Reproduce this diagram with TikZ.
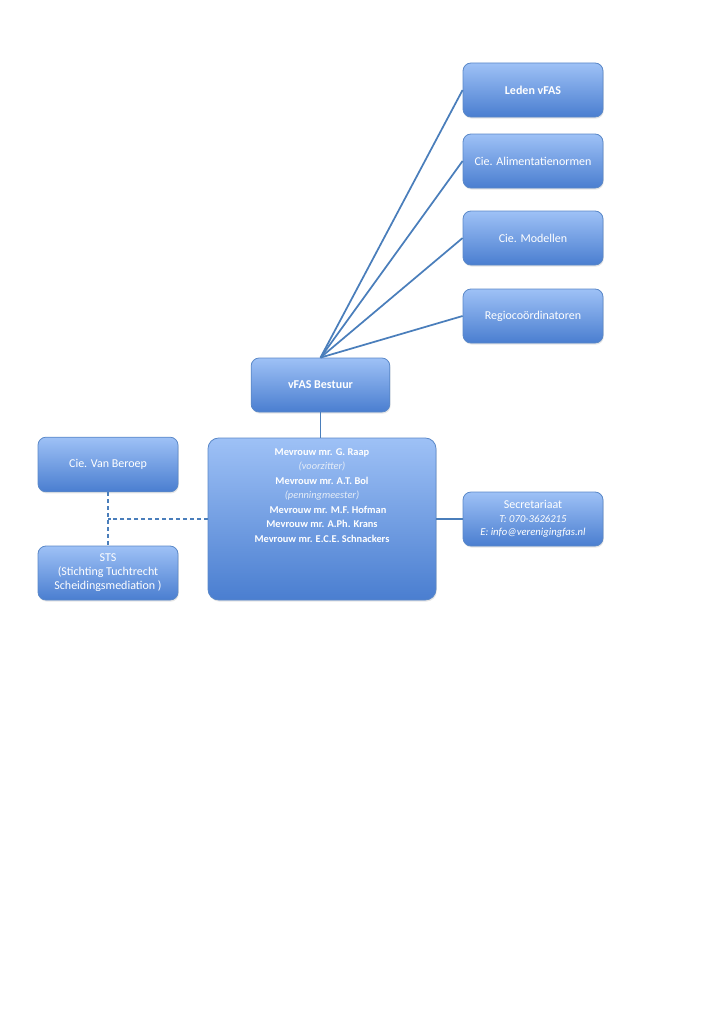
\documentclass[tikz,border=0pt]{standalone}
\usepackage{fontspec}
\setmainfont{Carlito}
\usetikzlibrary{positioning,shadows}
\definecolor{vfasrand}{HTML}{5A88C8}
\definecolor{vfastop}{HTML}{9EC1F6}
\definecolor{vfasbodem}{HTML}{4A7ED0}
\definecolor{vfaslijn}{HTML}{4A7EBB}
\tikzset{
  doos/.style={rectangle, rounded corners=6pt, draw=vfasrand, line width=0.6pt,
    top color=vfastop, bottom color=vfasbodem, text=white, align=center,
    minimum width=105pt, minimum height=40.5pt, inner sep=2pt,
    font=\fontsize{9}{10.5}\selectfont,
    drop shadow={opacity=0.2, shadow xshift=0.6pt, shadow yshift=-1.2pt}},
  lijn/.style={draw=vfaslijn, line width=1.3pt},
  stippel/.style={lijn, dash pattern=on 3pt off 2.2pt}
}
\begin{document}
\begin{tikzpicture}[x=0.75pt,y=-0.75pt]
\useasboundingbox (0,0) rectangle (724,1024);
%\draw [help lines,step=50] (0,0) grid (724,1024);
\node [doos] (leden) at (533,90) {\bfseries Leden vFAS};
\node [doos] (alim) at (533,161) {Cie. Alimentatienormen};
\node [doos] (modellen) at (533,238) {Cie. Modellen};
\node [doos] (regio) at (533,316) {Regioco\"ordinatoren};
\node [doos, minimum width=104pt] (bestuur) at (320.5,385) {\bfseries vFAS Bestuur};
\node [doos, minimum width=171pt, minimum height=121.5pt, rounded corners=8pt] (raad) at (322,519) {};
\node [below=4.5pt of raad.north, text=white, align=center,
       font=\fontsize{7.8}{10.9}\selectfont\bfseries] (namen) {%
  Mevrouw mr. G. Raap\\
  {\mdseries\itshape\color{white!85!vfasrand}(voorzitter)}\\
  Mevrouw mr. A.T. Bol\\
  {\mdseries\itshape\color{white!85!vfasrand}(penningmeester)}\\
  \hspace*{9pt}Mevrouw mr. M.F. Hofman\\
  Mevrouw mr. A.Ph. Krans\\
  Mevrouw mr. E.C.E. Schnackers};
\node [doos, minimum height=41pt] (beroep) at (108,464.5) {Cie. Van Beroep};
\node [doos] (sts) at (108,573) {STS\\(Stichting Tuchtrecht\\Scheidingsmediation )};
\node [doos, font=\fontsize{9}{10}\selectfont] (secr) at (533,519) {Secretariaat\\
  {\itshape\fontsize{8}{10}\selectfont T: 070-3626215}\\
  {\itshape\fontsize{8}{10}\selectfont E: info@verenigingfas.nl}};
% waaier naar boven
\foreach \doel in {leden,alim,modellen,regio}
  \draw [lijn] (bestuur.north) -- (\doel.west);
\draw [lijn] (bestuur.south) -- (bestuur.south |- raad.north);
\draw [lijn] (raad.east |- secr.west) -- (secr.west);
% gestippeld naar links
\coordinate (knik) at (beroep.south |- raad.west);
\draw [stippel] (beroep.south) -- (sts.north);
\draw [stippel] (raad.west) -- (knik);
\end{tikzpicture}
\end{document}
